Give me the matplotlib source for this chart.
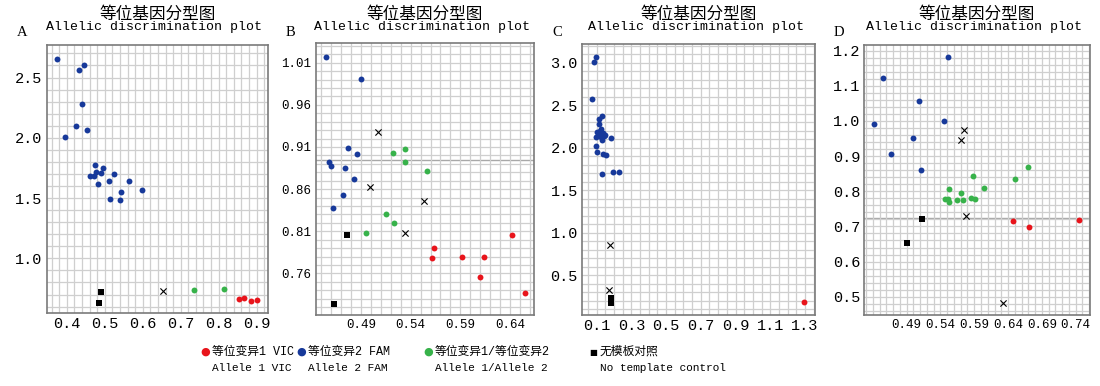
import matplotlib
matplotlib.use("Agg")
import matplotlib.pyplot as plt
from matplotlib.ticker import FixedLocator, MultipleLocator

MONO = ["Liberation Mono", "Noto Sans CJK SC"]
CJK = ["Noto Sans CJK SC", "DejaVu Sans"]

RED = "#e8141b"
BLUE = "#17399a"
GREEN = "#37b24a"

title_cn = "等位基因分型图"
title_en = "Allelic discrimination plot"
panel_letters = ["A", "B", "C", "D"]

# ---- panel A ----
a_blue_x = [0.374, 0.432, 0.446, 0.441, 0.425, 0.454, 0.394, 0.475, 0.495, 0.476, 0.489,
            0.462, 0.472, 0.525, 0.510, 0.565, 0.482, 0.544, 0.599, 0.514, 0.540]
a_blue_y = [2.657, 2.561, 2.602, 2.282, 2.099, 2.069, 2.008, 1.773, 1.751, 1.718, 1.707,
            1.685, 1.680, 1.702, 1.644, 1.646, 1.616, 1.552, 1.564, 1.494, 1.486]
a_red_x = [0.854, 0.866, 0.884, 0.902]
a_red_y = [0.660, 0.671, 0.649, 0.652]
a_green_x = [0.736, 0.814]
a_green_y = [0.740, 0.749]
a_ntc_x = [0.489, 0.486]
a_ntc_y = [0.718, 0.627]
a_und_x = [0.654]
a_und_y = [0.729]

# ---- panel B ----
b_blue_x = [0.4544, 0.4897, 0.4770, 0.4856, 0.4578, 0.4601, 0.4739, 0.4830, 0.4722, 0.4621]
b_blue_y = [1.017, 0.991, 0.909, 0.902, 0.892, 0.887, 0.885, 0.872, 0.853, 0.837]
b_red_x = [0.5635, 0.5615, 0.5913, 0.6142, 0.6101, 0.6417, 0.6551]
b_red_y = [0.790, 0.778, 0.779, 0.779, 0.756, 0.805, 0.737]
b_green_x = [0.5219, 0.5340, 0.5346, 0.5561, 0.5148, 0.5232, 0.4947]
b_green_y = [0.903, 0.908, 0.892, 0.882, 0.830, 0.820, 0.808]
b_ntc_x = [0.4756, 0.4632]
b_ntc_y = [0.806, 0.724]
b_und_x = [0.5068, 0.4987, 0.5534, 0.5340]
b_und_y = [0.928, 0.862, 0.846, 0.808]

# ---- panel C ----
c_blue_x = [0.096, 0.085, 0.075, 0.129, 0.113, 0.113, 0.123, 0.100, 0.113, 0.138, 0.148,
            0.096, 0.123, 0.133, 0.181, 0.094, 0.100, 0.138, 0.152, 0.192, 0.227, 0.133,
            0.142, 0.118, 0.128]
c_blue_y = [3.063, 3.004, 2.569, 2.373, 2.334, 2.279, 2.216, 2.185, 2.177, 2.169, 2.150,
            2.130, 2.130, 2.091, 2.118, 2.024, 1.946, 1.922, 1.915, 1.715, 1.715, 1.687,
            2.138, 2.200, 2.160]
c_red_x = [1.294]
c_red_y = [0.187]
c_green_x = []
c_green_y = []
c_ntc_x = [0.184, 0.184, 0.184]
c_ntc_y = [0.237, 0.202, 0.171]
c_und_x = [0.175, 0.169]
c_und_y = [0.860, 0.328]

# ---- panel D ----
d_blue_x = [0.5507, 0.4555, 0.5087, 0.5457, 0.4422, 0.4989, 0.4673, 0.5107]
d_blue_y = [1.181, 1.123, 1.056, 0.999, 0.992, 0.951, 0.905, 0.861]
d_red_x = [0.6473, 0.6715, 0.7444]
d_red_y = [0.714, 0.698, 0.717]
d_green_x = [0.6695, 0.6508, 0.5876, 0.6044, 0.5521, 0.5709, 0.5472, 0.5507, 0.5521,
             0.5645, 0.5733, 0.5847, 0.5916]
d_green_y = [0.868, 0.836, 0.842, 0.810, 0.807, 0.794, 0.778, 0.778, 0.769,
             0.775, 0.774, 0.780, 0.777]
d_ntc_x = [0.5132, 0.4905]
d_ntc_y = [0.722, 0.653]
d_und_x = [0.5748, 0.5709, 0.5778, 0.6330]
d_und_y = [0.975, 0.945, 0.729, 0.483]

# axis ticks / labels
a_xticks = [0.4, 0.5, 0.6, 0.7, 0.8, 0.9]
a_xlabels = ["0.4", "0.5", "0.6", "0.7", "0.8", "0.9"]
a_yticks = [1.0, 1.5, 2.0, 2.5]
a_ylabels = ["1.0", "1.5", "2.0", "2.5"]
b_xticks = [0.49, 0.54, 0.59, 0.64]
b_xlabels = ["0.49", "0.54", "0.59", "0.64"]
b_yticks = [0.76, 0.81, 0.86, 0.91, 0.96, 1.01]
b_ylabels = ["0.76", "0.81", "0.86", "0.91", "0.96", "1.01"]
c_xticks = [0.1, 0.3, 0.5, 0.7, 0.9, 1.1, 1.3]
c_xlabels = ["0.1", "0.3", "0.5", "0.7", "0.9", "1.1", "1.3"]
c_yticks = [0.5, 1.0, 1.5, 2.0, 2.5, 3.0]
c_ylabels = ["0.5", "1.0", "1.5", "2.0", "2.5", "3.0"]
d_xticks = [0.49, 0.54, 0.59, 0.64, 0.69, 0.74]
d_xlabels = ["0.49", "0.54", "0.59", "0.64", "0.69", "0.74"]
d_yticks = [0.5, 0.6, 0.7, 0.8, 0.9, 1.0, 1.1, 1.2]
d_ylabels = ["0.5", "0.6", "0.7", "0.8", "0.9", "1.0", "1.1", "1.2"]

legend_cn = ["等位变异1 VIC", "等位变异2 FAM", "等位变异1/等位变异2", "无模板对照"]
legend_en = ["Allele 1 VIC", "Allele 2 FAM", "Allele 1/Allele 2", "No template control"]

panels = [
    dict(blue=(a_blue_x, a_blue_y), red=(a_red_x, a_red_y), green=(a_green_x, a_green_y),
         ntc=(a_ntc_x, a_ntc_y), und=(a_und_x, a_und_y),
         xlim=(0.347, 0.93), ylim=(0.547, 2.77), minor=(0.02, 0.1),
         xt=(a_xticks, a_xlabels), yt=(a_yticks, a_ylabels), hline=None,
         box=(46.7, 268, 45, 313)),
    dict(blue=(b_blue_x, b_blue_y), red=(b_red_x, b_red_y), green=(b_green_x, b_green_y),
         ntc=(b_ntc_x, b_ntc_y), und=(b_und_x, b_und_y),
         xlim=(0.4444, 0.6645), ylim=(0.7106, 1.033), minor=(0.01, 0.01),
         xt=(b_xticks, b_xlabels), yt=(b_yticks, b_ylabels), hline=0.894,
         box=(315.7, 534.3, 43.3, 315)),
    dict(blue=(c_blue_x, c_blue_y), red=(c_red_x, c_red_y), green=(c_green_x, c_green_y),
         ntc=(c_ntc_x, c_ntc_y), und=(c_und_x, c_und_y),
         xlim=(0.0155, 1.358), ylim=(0.034, 3.216), minor=(0.05, 0.1),
         xt=(c_xticks, c_xlabels), yt=(c_yticks, c_ylabels), hline=None,
         box=(582, 815, 44.3, 315)),
    dict(blue=(d_blue_x, d_blue_y), red=(d_red_x, d_red_y), green=(d_green_x, d_green_y),
         ntc=(d_ntc_x, d_ntc_y), und=(d_und_x, d_und_y),
         xlim=(0.4274, 0.7612), ylim=(0.448, 1.216), minor=(0.01, 0.02),
         xt=(d_xticks, d_xlabels), yt=(d_yticks, d_ylabels), hline=0.7235,
         box=(864.3, 1090, 45, 315)),
]

W, H = 1100, 386
fig = plt.figure(figsize=(W / 100, H / 100), dpi=100)

for letter, p in zip(panel_letters, panels):
    l, r, t, b = p["box"]
    ax = fig.add_axes([l / W, 1 - b / H, (r - l) / W, (b - t) / H])
    ax.set_xlim(*p["xlim"])
    ax.set_ylim(*p["ylim"])
    ax.xaxis.set_major_locator(FixedLocator(p["xt"][0]))
    ax.set_xticklabels(p["xt"][1])
    ax.yaxis.set_major_locator(FixedLocator(p["yt"][0]))
    ax.set_yticklabels(p["yt"][1])
    ax.xaxis.set_minor_locator(MultipleLocator(p["minor"][0]))
    ax.yaxis.set_minor_locator(MultipleLocator(p["minor"][1]))
    ax.grid(which="both", color="#cfcfcf", linewidth=0.9)
    ax.set_axisbelow(True)
    if p["hline"] is not None:
        ax.axhline(p["hline"], color="#a8a8a8", linewidth=1.0, zorder=0.5)
    ax.tick_params(which="both", length=0, pad=3)
    for lab in ax.get_xticklabels() + ax.get_yticklabels():
        lab.set_fontfamily(MONO)
        # 4-character labels are squeezed in the original
        lab.set_fontsize(11 if len(lab.get_text()) <= 3 else 9)
    for s in ax.spines.values():
        s.set_color("#7a7a7a")
        s.set_linewidth(1.2)

    ax.scatter(*p["blue"], s=18, color=BLUE, linewidths=0, zorder=3)
    ax.scatter(*p["green"], s=18, color=GREEN, linewidths=0, zorder=3)
    ax.scatter(*p["red"], s=18, color=RED, linewidths=0, zorder=3)
    ax.scatter(*p["ntc"], s=16, color="black", marker="s", linewidths=0, zorder=3)
    ax.scatter(*p["und"], s=20, color="black", marker="x", linewidths=0.8, zorder=3)

    cx = (l + r) / 2 / W
    fig.text(cx, 1 - 14 / H, title_cn, ha="center", va="center", fontsize=12,
             family=CJK)
    fig.text(cx - 3 / W, 1 - 27 / H, title_en, ha="center", va="center",
             fontsize=9.5, family=MONO)
    fig.text((l - 25) / W, 1 - 32 / H, letter, ha="center", va="center",
             fontsize=10.5, family=["Liberation Serif"])

# legend
leg_colors = [RED, BLUE, GREEN, "black"]
leg_glyph = ["●", "●", "●", "■"]
leg_x = [205, 301, 428, 593]
for col, gl, xpx, cn, en in zip(leg_colors, leg_glyph, leg_x, legend_cn, legend_en):
    fig.text(xpx / W, 1 - 352 / H, gl, ha="center", va="center",
             fontsize=8 if gl == "●" else 6, color=col, family=["DejaVu Sans"])
    fig.text((xpx + 7) / W, 1 - 352 / H, cn, ha="left", va="center",
             fontsize=8.5, family=MONO)
    fig.text((xpx + 7) / W, 1 - 368 / H, en, ha="left", va="center",
             fontsize=8, family=MONO)

fig.savefig("out.png", dpi=100, facecolor="white")
